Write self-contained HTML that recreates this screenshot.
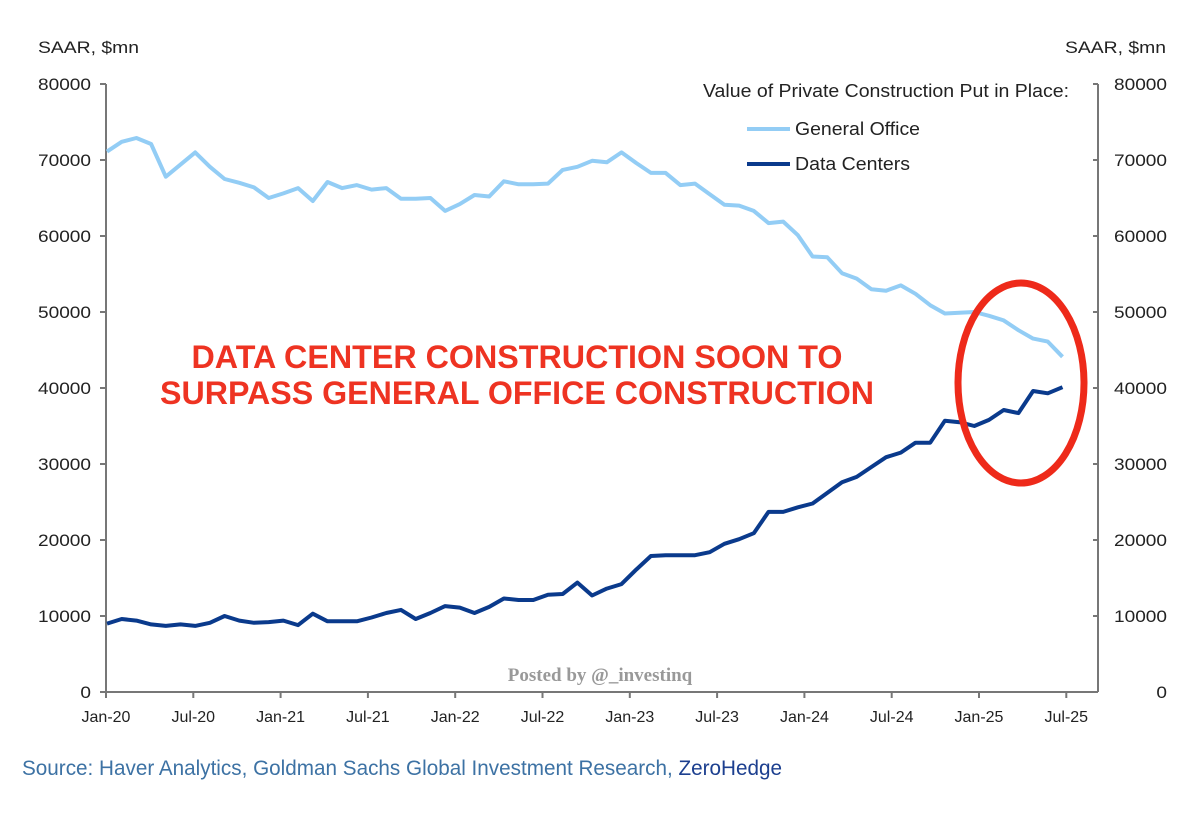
<!DOCTYPE html>
<html><head><meta charset="utf-8"><style>
body{margin:0;background:#fff;width:1200px;height:826px;overflow:hidden;font-family:"Liberation Sans",Arial,sans-serif}
svg text{font-family:"Liberation Sans",Arial,sans-serif}
</style></head><body>
<svg id="chart" width="1200" height="826" xmlns="http://www.w3.org/2000/svg">
<g id="axes"></g><g id="series"></g>
<text x="38" y="53" font-size="17" fill="#222" textLength="101" lengthAdjust="spacingAndGlyphs">SAAR, $mn</text>
<text x="1065" y="53" font-size="17" fill="#222" textLength="101" lengthAdjust="spacingAndGlyphs">SAAR, $mn</text>
<text x="703" y="97" font-size="18" fill="#222" textLength="366" lengthAdjust="spacingAndGlyphs">Value of Private Construction Put in Place:</text>
<g><line x1="747" y1="129" x2="790" y2="129" stroke="#93cdf5" stroke-width="4"/><text x="795" y="135" font-size="18" fill="#222" textLength="125" lengthAdjust="spacingAndGlyphs">General Office</text></g>
<g><line x1="747" y1="164" x2="790" y2="164" stroke="#0a3a8c" stroke-width="4"/><text x="795" y="170" font-size="18" fill="#222" textLength="115" lengthAdjust="spacingAndGlyphs">Data Centers</text></g>
<text x="517" y="368" font-size="32" font-weight="bold" fill="#ee3322" text-anchor="middle" textLength="651" lengthAdjust="spacingAndGlyphs">DATA CENTER CONSTRUCTION SOON TO</text>
<text x="517" y="404" font-size="32" font-weight="bold" fill="#ee3322" text-anchor="middle" textLength="714" lengthAdjust="spacingAndGlyphs">SURPASS GENERAL OFFICE CONSTRUCTION</text>
<ellipse cx="1021" cy="383" rx="63" ry="100" fill="none" stroke="#ee2a1a" stroke-width="7"/>
<text x="600" y="681" font-size="19" font-weight="bold" fill="#999" text-anchor="middle" style="font-family:'Liberation Serif',serif">Posted by @_investinq</text>
<text x="22" y="775" font-size="21" fill="#3d72a4" textLength="760" lengthAdjust="spacingAndGlyphs">Source: Haver Analytics, Goldman Sachs Global Investment Research, <tspan fill="#1c3f8f">ZeroHedge</tspan></text>
</svg>
<script>
const yTicks=[0,10000,20000,30000,40000,50000,60000,70000,80000];
const xTickLabels=["Jan-20","Jul-20","Jan-21","Jul-21","Jan-22","Jul-22","Jan-23","Jul-23","Jan-24","Jul-24","Jan-25","Jul-25"];
const xTickMonths=[0,6,12,18,24,30,36,42,48,54,60,66];
const officeValues=[71.1,72.4,72.9,72.1,67.8,69.4,71.0,69.1,67.5,67.0,66.4,65.0,65.6,66.3,64.6,67.1,66.3,66.7,66.1,66.3,64.9,64.9,65.0,63.3,64.2,65.4,65.2,67.2,66.8,66.8,66.9,68.7,69.1,69.9,69.7,71.0,69.6,68.3,68.3,66.7,66.9,65.5,64.1,64.0,63.3,61.7,61.9,60.1,57.3,57.2,55.1,54.4,53.0,52.8,53.5,52.4,50.9,49.8,49.9,50.0,49.5,48.9,47.6,46.5,46.1,44.1];
const dataCenterValues=[9.0,9.6,9.4,8.9,8.7,8.9,8.7,9.1,10.0,9.4,9.1,9.2,9.4,8.8,10.3,9.3,9.3,9.3,9.8,10.4,10.8,9.6,10.4,11.3,11.1,10.4,11.2,12.3,12.1,12.1,12.8,12.9,14.4,12.7,13.6,14.2,16.1,17.9,18.0,18.0,18.0,18.4,19.5,20.1,20.9,23.7,23.7,24.3,24.8,26.2,27.6,28.3,29.6,30.9,31.5,32.8,32.8,35.7,35.5,35.0,35.8,37.1,36.7,39.6,39.3,40.1];
const NS="http://www.w3.org/2000/svg";
function X(m){return 106+14.55*m;}
function XD(m){return 107+14.7*m;}
function Y(v){return 692-v*0.0076;}
function mk(tag,attrs,parent){const e=document.createElementNS(NS,tag);for(const k in attrs)e.setAttribute(k,attrs[k]);parent.appendChild(e);return e;}
const ax=document.getElementById('axes');
let e;
e=mk('line',{x1:106,y1:84,x2:106,y2:692,stroke:'#777','stroke-width':2},ax);


e=mk('line',{x1:1098,y1:84,x2:1098,y2:692,stroke:'#777','stroke-width':2},ax);


e=mk('line',{x1:100,y1:692,x2:1098,y2:692,stroke:'#777','stroke-width':2},ax);


yTicks.forEach(v=>{const y=Y(v);
mk('line',{x1:100,y1:y,x2:106,y2:y,stroke:'#777','stroke-width':2},ax);
mk('line',{x1:1093,y1:y,x2:1098,y2:y,stroke:'#777','stroke-width':2},ax);
const w=String(v).length*10.6;
e=mk('text',{x:91-w,y:y+6,'font-size':17,fill:'#222',textLength:w,lengthAdjust:'spacingAndGlyphs'},ax);e.textContent=v;


e=mk('text',{x:1167-w,y:y+6,'font-size':17,fill:'#222',textLength:w,lengthAdjust:'spacingAndGlyphs'},ax);e.textContent=v;


});
xTickMonths.forEach((m,i)=>{const x=X(m);
mk('line',{x1:x,y1:692,x2:x,y2:698,stroke:'#777','stroke-width':2},ax);
e=mk('text',{x:x,y:722,'font-size':16,fill:'#222','text-anchor':'middle'},ax);e.textContent=xTickLabels[i];


});
const sg=document.getElementById('series');
function pts(arr){return arr.map((v,i)=>XD(i).toFixed(1)+','+Y(v*1000).toFixed(1)).join(' ');}
e=mk('polyline',{points:pts(officeValues),fill:'none',stroke:'#93cdf5','stroke-width':4,'stroke-linejoin':'round'},sg);


e=mk('polyline',{points:pts(dataCenterValues),fill:'none',stroke:'#0a3a8c','stroke-width':4,'stroke-linejoin':'round'},sg);


</script>
</body></html>
